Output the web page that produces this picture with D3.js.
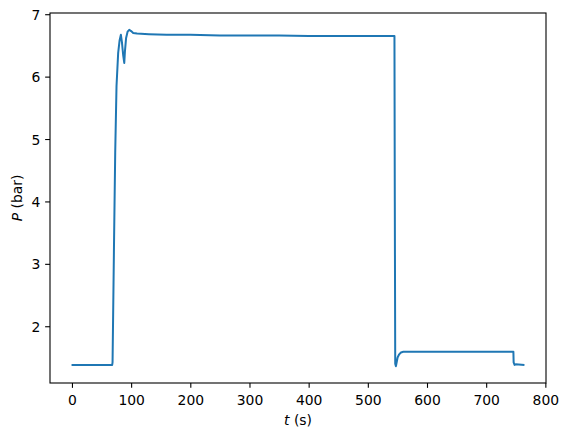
<!DOCTYPE html>
<html>
<head>
<meta charset="utf-8">
<script src="https://cdn.jsdelivr.net/npm/d3@7"></script>
<style>
  body { margin: 0; background: #fff; }
  svg { font-family: "DejaVu Sans", sans-serif; }
</style>
</head>
<body>
<svg id="chart"></svg>
<script>
// time (s) and pressure (bar)
const times = [1, 10, 30, 50, 68, 68.6, 70.9, 73.1, 75.3, 78.1, 80.5, 82.7, 84.5, 86.5, 88.4, 89.5,
  91.5, 94, 96.8, 100, 103.5, 110, 130, 160, 200, 250, 300, 350, 400, 450, 500, 545,
  545.6, 546.3, 547.5, 550.3, 553, 556, 560, 600, 650, 700, 746, 746.4, 748, 750, 763];
const pressures = [1.38, 1.38, 1.38, 1.38, 1.38, 1.42, 3.18, 4.78, 5.85, 6.38, 6.58, 6.67, 6.55, 6.35, 6.22, 6.40,
  6.62, 6.72, 6.75, 6.73, 6.70, 6.69, 6.68, 6.67, 6.67, 6.66, 6.66, 6.66, 6.65, 6.65, 6.65, 6.65,
  4.0, 1.40, 1.36, 1.50, 1.55, 1.58, 1.59, 1.59, 1.59, 1.59, 1.59, 1.42, 1.38, 1.39, 1.38];
const xTicks = [0, 100, 200, 300, 400, 500, 600, 700, 800];
const yTicks = [2, 3, 4, 5, 6, 7];

const margin = { top: 13, right: 23, bottom: 55, left: 50 };
const width = 569 - margin.left - margin.right;
const height = 438 - margin.top - margin.bottom;

const data = times.map((t, i) => ({ t: t, p: pressures[i] }));

const svg = d3.select("#chart")
  .attr("width", 569)
  .attr("height", 438)
  .append("g")
  .attr("transform", "translate(" + margin.left + "," + margin.top + ")");

// matplotlib style 5% margins
const tExt = d3.extent(times), pExt = d3.extent(pressures);
const tPad = (tExt[1] - tExt[0]) * 0.05, pPad = (pExt[1] - pExt[0]) * 0.05;

const xScale = d3.scaleLinear().domain([tExt[0] - tPad, tExt[1] + tPad]).range([0, width]);
const yScale = d3.scaleLinear().domain([pExt[0] - pPad, pExt[1] + pPad]).range([height, 0]);

const tickLen = 4.86;
const xAxis = d3.axisBottom(xScale).tickValues(xTicks).tickFormat(d3.format("d"))
  .tickSizeInner(tickLen).tickSizeOuter(0).tickPadding(tickLen);
const yAxis = d3.axisLeft(yScale).tickValues(yTicks).tickFormat(d3.format("d"))
  .tickSizeInner(tickLen).tickSizeOuter(0).tickPadding(tickLen);

const gx = svg.append("g").attr("transform", "translate(0," + height + ")").call(xAxis);
const gy = svg.append("g").call(yAxis);

[gx, gy].forEach(g => {
  g.select(".domain").remove();
  g.selectAll(".tick line").attr("stroke", "#000").attr("stroke-width", 1.1);
  g.selectAll(".tick text").attr("fill", "#000").style("font-size", "13.9px").style("font-family", "DejaVu Sans");
});
gx.selectAll(".tick text").attr("dy", "0.9em");
gy.selectAll(".tick text").attr("dy", "0.36em");

const line = d3.line().x(d => xScale(d.t)).y(d => yScale(d.p));

svg.append("path")
  .datum(data)
  .attr("fill", "none")
  .attr("stroke", "#1f77b4")
  .attr("stroke-width", 2)
  .attr("stroke-linejoin", "round")
  .attr("stroke-linecap", "square")
  .attr("d", line);

// spines
svg.append("rect")
  .attr("width", width)
  .attr("height", height)
  .attr("fill", "none")
  .attr("stroke", "#000")
  .attr("stroke-width", 1.1);

// axis labels
const xl = svg.append("text")
  .attr("x", width / 2)
  .attr("y", height + 42)
  .attr("text-anchor", "middle")
  .style("font-size", "13.9px");
xl.append("tspan").style("font-style", "italic").text("t");
xl.append("tspan").text(" (s)");

const yl = svg.append("text")
  .attr("transform", "translate(" + (-28) + "," + (height / 2) + ") rotate(-90)")
  .attr("text-anchor", "middle")
  .style("font-size", "13.9px");
yl.append("tspan").style("font-style", "italic").text("P");
yl.append("tspan").text(" (bar)");
</script>
</body>
</html>
